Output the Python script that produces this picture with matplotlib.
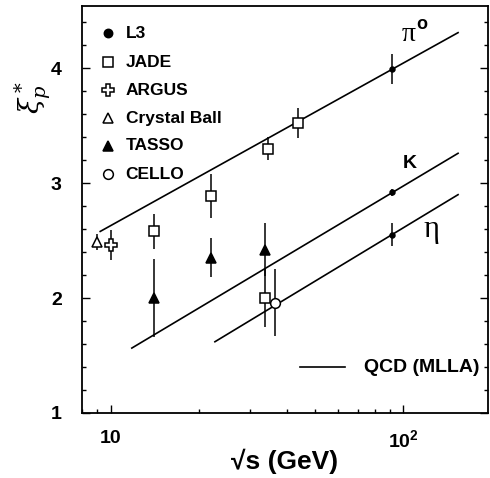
import matplotlib
matplotlib.use("Agg")
import matplotlib.pyplot as plt
from matplotlib.ticker import FixedLocator, NullFormatter, LogLocator
import numpy as np

plt.rcParams['font.family'] = ['Liberation Sans', 'DejaVu Sans']
plt.rcParams['mathtext.fontset'] = 'custom'
plt.rcParams['mathtext.rm'] = 'Liberation Sans'
plt.rcParams['mathtext.bf'] = 'Liberation Sans:bold'
plt.rcParams['mathtext.it'] = 'Liberation Sans:italic'

# ---- data ----
# QCD (MLLA) lines: (sqrt_s_start, xi_start), (sqrt_s_end, xi_end)
qcd_pi_x = [9.2, 154]
qcd_pi_y = [2.58, 4.31]
qcd_k_x = [11.8, 154]
qcd_k_y = [1.565, 3.26]
qcd_eta_x = [22.7, 154]
qcd_eta_y = [1.62, 2.90]

l3_x = [91.2, 91.2, 91.2]
l3_y = [3.99, 2.92, 2.55]
l3_err = [0.13, 0.03, 0.10]

jade_x = [14, 22, 34.5, 43.5, 33.8]
jade_y = [2.58, 2.89, 3.30, 3.52, 2.00]
jade_err = [0.15, 0.19, 0.10, 0.13, 0.25]

argus_x = [10.0]
argus_y = [2.46]
argus_err = [0.13]

cb_x = [9.0]
cb_y = [2.49]
cb_err = [0.07]

tasso_x = [14, 22, 33.8]
tasso_y = [2.00, 2.35, 2.42]
tasso_err = [0.34, 0.17, 0.23]

cello_x = [36.5]
cello_y = [1.96]
cello_err = [0.29]

fig = plt.figure(figsize=(4.90, 4.78), dpi=100)
ax = fig.add_axes([0.167, 0.136, 0.829, 0.851])

ax.set_xscale('log')
ax.set_xlim(7.96, 195)
ax.set_ylim(1.0, 4.54)

lw = 1.2
for xs, ys in [(qcd_pi_x, qcd_pi_y), (qcd_k_x, qcd_k_y), (qcd_eta_x, qcd_eta_y)]:
    ax.plot(xs, ys, color='black', lw=lw, zorder=2)

def series(x, y, e, marker, ms, fc):
    ax.errorbar(x, y, yerr=e, fmt='none', ecolor='black', elinewidth=1.1, capsize=0, zorder=3)
    ax.plot(x, y, linestyle='none', marker=marker, ms=ms, mfc=fc, mec='black', mew=1.1, zorder=4)

series(l3_x, l3_y, l3_err, 'o', 3.5, 'black')
series(jade_x, jade_y, jade_err, 's', 7, 'white')
series(argus_x, argus_y, argus_err, 'P', 8, 'white')
series(cb_x, cb_y, cb_err, '^', 7, 'white')
series(tasso_x, tasso_y, tasso_err, '^', 6.5, 'black')
series(cello_x, cello_y, cello_err, 'o', 7, 'white')

# legend (manual)
leg = [('L3', 'o', 6, 'black'), ('JADE', 's', 7, 'white'), ('ARGUS', 'P', 8, 'white'),
       ('Crystal Ball', '^', 7, 'white'), ('TASSO', '^', 6.5, 'black'), ('CELLO', 'o', 7, 'white')]
ys_leg = [0.934, 0.862, 0.793, 0.725, 0.657, 0.587]
for (lab, m, ms, fc), yy in zip(leg, ys_leg):
    ax.plot([0.064], [yy], transform=ax.transAxes, marker=m, ms=ms, mfc=fc, mec='black', mew=1.1,
            linestyle='none', clip_on=False)
    ax.text(0.108, yy, lab, transform=ax.transAxes, fontsize=12.5, fontweight='bold', va='center', ha='left')

ax.plot([0.537, 0.648], [0.113, 0.113], transform=ax.transAxes, color='black', lw=lw)
ax.text(0.695, 0.113, 'QCD (MLLA)', transform=ax.transAxes, fontsize=14, fontweight='bold', va='center', ha='left')

# curve labels
ax.text(0.805, 0.931, '\u03c0', transform=ax.transAxes, fontsize=20, family='Liberation Serif', ha='center', va='center')
ax.text(0.837, 0.956, 'o', transform=ax.transAxes, fontsize=13, fontweight='bold', ha='center', va='center')
ax.text(0.808, 0.614, 'K', transform=ax.transAxes, fontsize=14, fontweight='bold', ha='center', va='center')
ax.text(0.862, 0.452, '\u03b7', transform=ax.transAxes, fontsize=22, family='Liberation Serif', ha='center', va='center')

# ticks
ax.xaxis.set_major_locator(FixedLocator([10, 100]))
ax.set_xticklabels(['10', r'$\mathbf{10^2}$'])
ax.xaxis.set_minor_locator(LogLocator(base=10, subs=np.arange(2, 10)))
ax.xaxis.set_minor_formatter(NullFormatter())
ax.set_yticks([1, 2, 3, 4])
ax.set_yticklabels(['1', '2', '3', '4'])
ax.yaxis.set_minor_locator(FixedLocator(np.arange(1.0, 4.6, 0.2)))
ax.tick_params(which='both', direction='in', top=False, right=True, width=1.0)
ax.tick_params(which='major', length=6, labelsize=14)
ax.tick_params(axis='x', which='major', pad=12)
ax.tick_params(axis='y', which='major', pad=14.5)
ax.tick_params(which='minor', length=3)
for lab in ax.get_xticklabels() + ax.get_yticklabels():
    lab.set_fontweight('bold')
for s in ax.spines.values():
    s.set_linewidth(1.3)

xl = ax.set_xlabel('\u221as (GeV)', fontsize=19, fontweight='bold')
xl.set_va('center')
ax.xaxis.set_label_coords(0.5, -0.12)
ax.set_ylabel(r'$\xi^*_p$', fontsize=20, rotation=90, math_fontfamily='dejavuserif')
ax.yaxis.set_label_coords(-0.07, 0.775)

fig.savefig('out.png', dpi=100)
